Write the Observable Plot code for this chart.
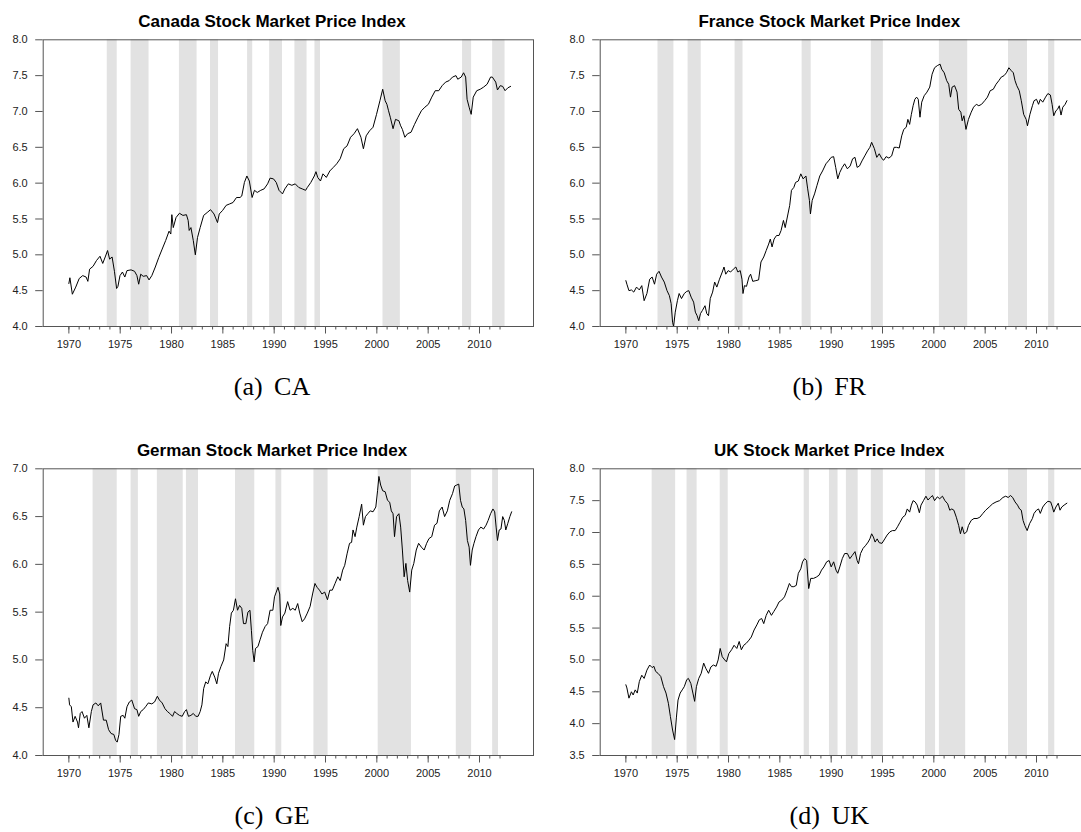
<!DOCTYPE html>
<html>
<head>
<meta charset="utf-8">
<script src="https://cdn.jsdelivr.net/npm/d3@7"></script>
<script src="https://cdn.jsdelivr.net/npm/@observablehq/plot@0.6"></script>
<style>
  html, body { margin: 0; padding: 0; background: #fff; overflow: hidden; }
  #fig { position: relative; width: 1081px; height: 832px; overflow: hidden; background: #fff; }
  .panel { position: absolute; }
  .title { position: absolute; font: bold 17px "Liberation Sans", Arial, sans-serif; line-height: 17px;
           white-space: nowrap; transform: translateX(-50%); color: #000; }
  .caption { position: absolute; font: 26px "Liberation Serif", "Times New Roman", serif; line-height: 26px;
             white-space: nowrap; transform: translateX(-50%); color: #000; word-spacing: 5px; }
</style>
</head>
<body>
<div id="fig"></div>
<script>
// Log stock market price indices, [decimal year, value]
const canada = [[1970.00,4.60],[1970.10,4.68],[1970.34,4.45],[1970.67,4.55],[1971.01,4.67],[1971.35,4.71],[1971.68,4.69],[1971.85,4.63],[1972.02,4.80],[1972.36,4.84],
[1972.69,4.92],[1973.03,4.98],[1973.30,4.88],[1973.54,4.97],[1973.77,5.06],[1973.97,4.94],[1974.21,4.97],[1974.44,4.77],[1974.65,4.53],[1974.78,4.56],
[1974.98,4.71],[1975.22,4.76],[1975.45,4.69],[1975.66,4.78],[1976.06,4.79],[1976.40,4.77],[1976.63,4.71],[1976.80,4.59],[1977.00,4.73],[1977.24,4.70],
[1977.58,4.71],[1977.81,4.65],[1978.08,4.71],[1978.42,4.83],[1978.75,4.96],[1979.09,5.08],[1979.43,5.20],[1979.76,5.33],[1979.93,5.29],[1980.03,5.56],
[1980.17,5.38],[1980.44,5.52],[1980.77,5.58],[1981.11,5.55],[1981.45,5.56],[1981.62,5.48],[1981.72,5.34],[1981.89,5.38],[1982.12,5.20],[1982.32,5.00],
[1982.53,5.24],[1982.79,5.38],[1983.13,5.55],[1983.47,5.59],[1983.80,5.63],[1984.14,5.57],[1984.48,5.45],[1984.65,5.57],[1984.98,5.62],[1985.32,5.69],
[1985.66,5.71],[1985.99,5.73],[1986.33,5.80],[1986.67,5.80],[1986.84,5.82],[1987.10,6.01],[1987.34,6.10],[1987.58,6.03],[1987.85,5.80],[1988.08,5.90],
[1988.35,5.87],[1988.69,5.90],[1989.02,5.92],[1989.36,5.99],[1989.60,6.07],[1989.93,6.06],[1990.20,6.01],[1990.47,5.90],[1990.81,5.85],[1991.04,5.92],
[1991.38,5.99],[1991.72,5.97],[1992.05,5.99],[1992.39,5.94],[1992.73,5.92],[1993.06,5.90],[1993.23,5.94],[1993.57,6.01],[1993.91,6.10],[1994.07,6.16],
[1994.24,6.08],[1994.51,6.03],[1994.75,6.13],[1995.08,6.08],[1995.42,6.17],[1995.76,6.22],[1996.09,6.27],[1996.43,6.34],[1996.77,6.48],[1997.10,6.52],
[1997.44,6.64],[1997.78,6.69],[1998.11,6.76],[1998.45,6.64],[1998.69,6.48],[1998.96,6.66],[1999.29,6.73],[1999.63,6.78],[1999.97,6.96],[2000.30,7.15],
[2000.57,7.31],[2000.81,7.15],[2000.98,7.10],[2001.14,7.01],[2001.31,6.92],[2001.58,6.76],[2001.82,6.89],[2002.15,6.87],[2002.32,6.80],[2002.49,6.75],
[2002.73,6.64],[2003.00,6.69],[2003.33,6.71],[2003.67,6.82],[2004.01,6.92],[2004.34,7.01],[2004.68,7.06],[2005.02,7.10],[2005.35,7.20],[2005.69,7.29],
[2006.03,7.29],[2006.36,7.36],[2006.70,7.41],[2007.04,7.43],[2007.37,7.48],[2007.71,7.50],[2007.88,7.45],[2008.22,7.48],[2008.45,7.54],[2008.65,7.48],
[2008.79,7.17],[2008.99,7.06],[2009.19,6.96],[2009.39,7.20],[2009.73,7.29],[2010.07,7.31],[2010.40,7.34],[2010.74,7.38],[2011.08,7.48],[2011.25,7.48],
[2011.58,7.41],[2011.75,7.30],[2012.02,7.36],[2012.26,7.35],[2012.49,7.29],[2012.76,7.33],[2013.03,7.35]];

const france = [[1970.00,4.64],[1970.10,4.59],[1970.30,4.50],[1970.54,4.51],[1970.77,4.48],[1971.04,4.55],[1971.31,4.51],[1971.55,4.57],[1971.78,4.36],[1972.05,4.46],
[1972.32,4.66],[1972.56,4.69],[1972.79,4.59],[1973.00,4.73],[1973.23,4.77],[1973.47,4.69],[1973.74,4.62],[1974.01,4.50],[1974.24,4.43],[1974.41,4.32],
[1974.55,4.06],[1974.65,4.00],[1974.81,4.20],[1975.02,4.36],[1975.19,4.46],[1975.42,4.39],[1975.69,4.46],[1975.93,4.49],[1976.13,4.50],[1976.36,4.41],
[1976.60,4.34],[1976.77,4.20],[1976.94,4.15],[1977.10,4.08],[1977.27,4.18],[1977.44,4.22],[1977.71,4.29],[1977.88,4.18],[1978.05,4.15],[1978.22,4.39],
[1978.45,4.48],[1978.65,4.62],[1978.86,4.55],[1979.12,4.66],[1979.39,4.76],[1979.56,4.83],[1979.73,4.73],[1979.97,4.78],[1980.20,4.76],[1980.47,4.80],
[1980.71,4.83],[1980.91,4.76],[1981.14,4.78],[1981.31,4.66],[1981.41,4.46],[1981.55,4.57],[1981.75,4.56],[1981.99,4.69],[1982.15,4.73],[1982.36,4.63],
[1982.66,4.64],[1982.93,4.65],[1983.16,4.90],[1983.43,4.97],[1983.67,5.06],[1983.91,5.15],[1984.07,5.22],[1984.24,5.11],[1984.44,5.22],[1984.68,5.27],
[1984.92,5.27],[1985.12,5.34],[1985.35,5.48],[1985.52,5.38],[1985.79,5.57],[1985.96,5.69],[1986.13,5.90],[1986.36,5.94],[1986.53,6.01],[1986.80,6.03],
[1987.04,6.13],[1987.27,6.06],[1987.54,6.10],[1987.71,5.92],[1987.88,5.76],[1987.98,5.57],[1988.15,5.76],[1988.38,5.85],[1988.62,5.97],[1988.89,6.10],
[1989.16,6.17],[1989.49,6.27],[1989.73,6.31],[1990.00,6.36],[1990.24,6.37],[1990.44,6.22],[1990.64,6.06],[1990.84,6.15],[1991.08,6.22],[1991.31,6.27],
[1991.58,6.20],[1991.85,6.24],[1992.09,6.34],[1992.32,6.36],[1992.53,6.22],[1992.76,6.24],[1993.00,6.31],[1993.27,6.38],[1993.54,6.45],[1993.77,6.50],
[1993.94,6.57],[1994.21,6.48],[1994.44,6.36],[1994.68,6.41],[1994.95,6.34],[1995.12,6.32],[1995.35,6.37],[1995.62,6.35],[1995.89,6.38],[1996.13,6.50],
[1996.36,6.50],[1996.63,6.49],[1996.87,6.66],[1997.07,6.75],[1997.31,6.78],[1997.47,6.89],[1997.64,6.82],[1997.81,6.96],[1997.98,7.08],[1998.15,7.17],
[1998.32,7.20],[1998.48,7.17],[1998.65,6.92],[1998.82,7.13],[1999.06,7.22],[1999.33,7.27],[1999.60,7.34],[1999.83,7.52],[2000.07,7.61],[2000.34,7.64],
[2000.61,7.66],[2000.77,7.59],[2001.01,7.54],[2001.25,7.43],[2001.45,7.38],[2001.62,7.20],[2001.78,7.34],[2002.02,7.36],[2002.26,7.27],[2002.42,7.03],
[2002.63,6.99],[2002.76,6.87],[2002.93,6.94],[2003.13,6.75],[2003.37,6.89],[2003.64,6.99],[2003.87,7.06],[2004.14,7.10],[2004.38,7.08],[2004.65,7.10],
[2004.95,7.15],[2005.22,7.20],[2005.49,7.29],[2005.79,7.31],[2006.06,7.38],[2006.33,7.43],[2006.57,7.48],[2006.84,7.50],[2007.07,7.54],[2007.31,7.61],
[2007.54,7.57],[2007.74,7.54],[2007.91,7.43],[2008.08,7.36],[2008.32,7.29],[2008.52,7.15],[2008.75,6.96],[2008.99,6.89],[2009.12,6.80],[2009.36,6.96],
[2009.60,7.08],[2009.76,7.15],[2010.00,7.17],[2010.20,7.10],[2010.37,7.17],[2010.61,7.13],[2010.88,7.20],[2011.11,7.25],[2011.35,7.23],[2011.52,7.10],
[2011.68,6.94],[2011.89,7.01],[2012.05,7.03],[2012.22,7.08],[2012.39,6.95],[2012.56,7.06],[2012.79,7.10],[2012.96,7.15]];

const germany = [[1970.00,4.60],[1970.07,4.53],[1970.24,4.51],[1970.40,4.35],[1970.61,4.41],[1970.84,4.35],[1970.94,4.29],[1971.11,4.44],[1971.28,4.46],[1971.52,4.39],
[1971.75,4.42],[1971.95,4.29],[1972.19,4.46],[1972.36,4.53],[1972.63,4.55],[1972.86,4.52],[1973.10,4.55],[1973.37,4.37],[1973.64,4.37],[1973.87,4.27],
[1974.11,4.23],[1974.38,4.22],[1974.55,4.16],[1974.71,4.14],[1974.88,4.22],[1975.05,4.41],[1975.29,4.42],[1975.45,4.39],[1975.66,4.51],[1975.89,4.56],
[1976.13,4.58],[1976.40,4.49],[1976.63,4.48],[1976.80,4.41],[1977.00,4.46],[1977.24,4.48],[1977.47,4.51],[1977.74,4.55],[1978.08,4.54],[1978.35,4.56],
[1978.62,4.62],[1978.82,4.58],[1979.09,4.55],[1979.36,4.49],[1979.60,4.46],[1979.83,4.44],[1980.10,4.41],[1980.30,4.46],[1980.51,4.44],[1980.77,4.42],
[1981.04,4.41],[1981.28,4.46],[1981.45,4.48],[1981.65,4.41],[1981.89,4.42],[1982.12,4.44],[1982.36,4.41],[1982.59,4.41],[1982.79,4.46],[1982.96,4.53],
[1983.13,4.70],[1983.33,4.77],[1983.54,4.75],[1983.80,4.84],[1983.97,4.88],[1984.21,4.82],[1984.41,4.75],[1984.58,4.86],[1984.81,4.93],[1985.08,5.00],
[1985.32,5.17],[1985.49,5.14],[1985.66,5.35],[1985.83,5.49],[1986.03,5.52],[1986.23,5.64],[1986.43,5.52],[1986.63,5.57],[1986.84,5.54],[1987.01,5.38],
[1987.24,5.38],[1987.44,5.50],[1987.64,5.52],[1987.78,5.31],[1987.91,5.10],[1988.05,4.98],[1988.18,5.12],[1988.42,5.14],[1988.62,5.21],[1988.86,5.29],
[1989.12,5.35],[1989.36,5.38],[1989.60,5.52],[1989.87,5.52],[1990.03,5.66],[1990.20,5.71],[1990.37,5.76],[1990.54,5.69],[1990.64,5.36],[1990.81,5.45],
[1991.04,5.49],[1991.31,5.61],[1991.55,5.52],[1991.82,5.54],[1992.05,5.52],[1992.29,5.59],[1992.49,5.49],[1992.73,5.40],[1992.96,5.43],[1993.23,5.49],
[1993.50,5.56],[1993.74,5.69],[1993.97,5.80],[1994.18,5.76],[1994.41,5.73],[1994.65,5.69],[1994.92,5.71],[1995.19,5.63],[1995.42,5.73],[1995.66,5.73],
[1995.93,5.80],[1996.20,5.87],[1996.43,5.83],[1996.67,5.94],[1996.87,5.99],[1997.10,6.11],[1997.34,6.22],[1997.54,6.23],[1997.68,6.36],[1997.88,6.29],
[1998.05,6.39],[1998.28,6.50],[1998.52,6.63],[1998.69,6.41],[1998.89,6.50],[1999.12,6.53],[1999.36,6.56],[1999.63,6.55],[1999.90,6.60],[2000.07,6.77],
[2000.20,6.92],[2000.37,6.83],[2000.57,6.77],[2000.81,6.76],[2001.04,6.67],[2001.25,6.65],[2001.41,6.56],[2001.58,6.53],[2001.72,6.29],[2001.92,6.50],
[2002.15,6.53],[2002.32,6.39],[2002.49,6.15],[2002.66,5.87],[2002.83,6.01],[2003.00,5.83],[2003.20,5.71],[2003.40,5.94],[2003.60,6.01],[2003.84,6.15],
[2004.07,6.22],[2004.34,6.18],[2004.61,6.15],[2004.85,6.22],[2005.08,6.27],[2005.35,6.29],[2005.62,6.41],[2005.86,6.43],[2006.09,6.56],[2006.36,6.60],
[2006.60,6.50],[2006.87,6.56],[2007.10,6.67],[2007.37,6.74],[2007.58,6.82],[2007.78,6.83],[2007.98,6.84],[2008.15,6.67],[2008.32,6.60],[2008.48,6.58],
[2008.65,6.46],[2008.82,6.25],[2008.99,6.18],[2009.12,5.99],[2009.29,6.15],[2009.46,6.22],[2009.66,6.29],[2009.90,6.36],[2010.13,6.39],[2010.40,6.37],
[2010.64,6.41],[2010.84,6.46],[2011.08,6.53],[2011.31,6.58],[2011.48,6.55],[2011.62,6.39],[2011.75,6.25],[2011.92,6.36],[2012.09,6.37],[2012.26,6.50],
[2012.42,6.46],[2012.56,6.36],[2012.76,6.43],[2012.96,6.50],[2013.13,6.55]];

const uk = [[1970.00,4.61],[1970.10,4.56],[1970.30,4.40],[1970.54,4.50],[1970.71,4.45],[1970.91,4.53],[1971.11,4.48],[1971.31,4.66],[1971.55,4.76],[1971.78,4.71],
[1972.05,4.84],[1972.32,4.92],[1972.56,4.88],[1972.73,4.90],[1972.90,4.82],[1973.13,4.79],[1973.40,4.74],[1973.67,4.58],[1973.91,4.48],[1974.14,4.32],
[1974.34,4.11],[1974.55,3.90],[1974.75,3.75],[1974.92,4.09],[1975.08,4.37],[1975.29,4.48],[1975.49,4.53],[1975.69,4.58],[1975.93,4.69],[1976.09,4.71],
[1976.33,4.63],[1976.53,4.48],[1976.70,4.35],[1976.87,4.58],[1977.10,4.71],[1977.34,4.79],[1977.58,4.95],[1977.78,4.87],[1978.05,4.79],[1978.28,4.89],
[1978.52,4.92],[1978.79,4.90],[1978.99,5.00],[1979.19,5.18],[1979.39,5.05],[1979.63,5.00],[1979.80,4.97],[1980.03,5.10],[1980.30,5.16],[1980.54,5.23],
[1980.81,5.18],[1981.04,5.29],[1981.25,5.16],[1981.48,5.23],[1981.72,5.26],[1981.99,5.31],[1982.22,5.36],[1982.49,5.47],[1982.76,5.55],[1983.00,5.63],
[1983.23,5.65],[1983.43,5.57],[1983.67,5.70],[1983.91,5.78],[1984.18,5.70],[1984.41,5.76],[1984.68,5.83],[1984.92,5.91],[1985.19,5.94],[1985.45,5.99],
[1985.69,6.09],[1985.93,6.20],[1986.13,6.15],[1986.36,6.15],[1986.60,6.17],[1986.80,6.36],[1987.04,6.43],[1987.21,6.54],[1987.41,6.59],[1987.61,6.56],
[1987.81,6.12],[1988.01,6.28],[1988.28,6.28],[1988.55,6.30],[1988.82,6.33],[1989.06,6.41],[1989.29,6.46],[1989.56,6.54],[1989.80,6.56],[1990.00,6.46],
[1990.24,6.54],[1990.47,6.41],[1990.64,6.36],[1990.84,6.46],[1991.08,6.59],[1991.31,6.67],[1991.58,6.67],[1991.82,6.59],[1992.05,6.64],[1992.32,6.70],
[1992.53,6.56],[1992.66,6.51],[1992.86,6.67],[1993.10,6.75],[1993.37,6.80],[1993.60,6.85],[1993.77,6.90],[1993.94,6.98],[1994.11,6.93],[1994.28,6.85],
[1994.48,6.90],[1994.68,6.84],[1994.95,6.83],[1995.22,6.90],[1995.45,6.96],[1995.72,7.01],[1995.96,7.03],[1996.23,7.03],[1996.46,7.09],[1996.70,7.16],
[1996.97,7.24],[1997.21,7.27],[1997.41,7.37],[1997.64,7.32],[1997.81,7.43],[1997.98,7.50],[1998.18,7.48],[1998.38,7.43],[1998.59,7.31],[1998.75,7.43],
[1998.99,7.50],[1999.23,7.57],[1999.43,7.51],[1999.66,7.55],[1999.87,7.58],[2000.07,7.50],[2000.34,7.56],[2000.57,7.53],[2000.84,7.57],[2001.08,7.50],
[2001.35,7.45],[2001.55,7.35],[2001.75,7.37],[2001.95,7.35],[2002.19,7.24],[2002.42,7.11],[2002.59,6.98],[2002.76,7.09],[2002.96,6.98],[2003.20,7.01],
[2003.37,7.11],[2003.64,7.19],[2003.91,7.22],[2004.21,7.22],[2004.48,7.24],[2004.78,7.30],[2005.05,7.35],[2005.39,7.40],[2005.72,7.45],[2006.06,7.48],
[2006.40,7.50],[2006.73,7.55],[2007.00,7.57],[2007.24,7.55],[2007.47,7.58],[2007.68,7.55],[2007.91,7.48],[2008.15,7.43],[2008.35,7.37],[2008.52,7.35],
[2008.69,7.19],[2008.86,7.11],[2009.09,7.03],[2009.33,7.14],[2009.60,7.22],[2009.76,7.30],[2010.00,7.35],[2010.20,7.37],[2010.37,7.30],[2010.61,7.40],
[2010.84,7.45],[2011.11,7.49],[2011.38,7.48],[2011.55,7.40],[2011.68,7.32],[2011.89,7.40],[2012.12,7.46],[2012.29,7.35],[2012.46,7.40],[2012.69,7.43],
[2012.96,7.46]];

// Shaded periods, [start, end] in decimal years
const canadaBands = [[1973.74,1974.71],[1976.06,1977.81],[1980.77,1982.49],[1983.80,1984.58],[1987.41,1987.91],[1989.56,1990.81],
  [1992.02,1993.20],[1993.97,1994.51],[2000.60,2002.29],[2008.35,2009.23],[2011.28,2012.49]];
const franceBands = [[1973.13,1974.68],[1976.06,1977.34],[1980.64,1981.41],[1987.17,1988.05],[1993.91,1995.08],[2000.54,2003.30],
  [2007.27,2009.12],[2011.18,2011.78]];
const germanyBands = [[1972.36,1974.71],[1976.06,1976.77],[1978.62,1981.14],[1981.45,1982.63],[1986.23,1988.11],[1990.17,1990.74],
  [1993.87,1995.25],[2000.13,2003.37],[2007.74,2009.23],[2011.28,2011.85]];
const ukBands = [[1972.56,1974.85],[1975.96,1976.94],[1979.19,1979.97],[1987.37,1987.88],[1989.83,1990.67],[1991.48,1992.63],
  [1993.91,1995.08],[1999.19,2000.17],[2000.54,2003.10],[2007.27,2009.12],[2011.18,2011.78]];

const titles = ["Canada Stock Market Price Index", "France Stock Market Price Index",
                "German Stock Market Price Index", "UK Stock Market Price Index"];
const captions = [["(a)", "CA"], ["(b)", "FR"], ["(c)", "GE"], ["(d)", "UK"]];
const yTicksFour = [4.0, 4.5, 5.0, 5.5, 6.0, 6.5, 7.0, 7.5, 8.0];
const yTicksGE = [4.0, 4.5, 5.0, 5.5, 6.0, 6.5, 7.0];
const yTicksUK = [3.5, 4.0, 4.5, 5.0, 5.5, 6.0, 6.5, 7.0, 7.5, 8.0];
const majorYears = [1970, 1975, 1980, 1985, 1990, 1995, 2000, 2005, 2010];
const minorYears = d3.range(1970, 2013);

const fig = document.getElementById("fig");

// Layout of the 2x2 grid (page pixels)
const colStep = 557.3, rowStep = 429.2;
const plotLeft = 42.7, plotTop = 39.3, plotW = 490.3, plotH = 286.7;
const svgW = 560, svgH = 380;
const labelCenter = 272;

function panel(series, bands, yDomain, yTicks, col, row) {
  const chart = Plot.plot({
    width: svgW,
    height: svgH,
    marginLeft: plotLeft,
    marginTop: plotTop,
    marginRight: svgW - plotLeft - plotW,
    marginBottom: svgH - plotTop - plotH,
    x: {domain: [1967.5, 2015.26]},
    y: {domain: yDomain},
    style: {fontFamily: "'Liberation Sans', Arial, sans-serif", fontSize: "11px", color: "#222", background: "transparent", overflow: "visible"},
    marks: [
      Plot.rect(bands, {x1: d => d[0], x2: d => d[1], fill: "#e2e2e2"}),
      Plot.line(series, {x: d => d[0], y: d => d[1], stroke: "#000", strokeWidth: 1}),
      Plot.frame({stroke: "#555"}),
      Plot.axisY({ticks: yTicks, tickFormat: d3.format(".1f"), tickSize: 7.5, tickPadding: 8, stroke: "#555", label: null}),
      Plot.axisX({ticks: majorYears, tickFormat: "d", tickSize: 7.5, tickPadding: 6, stroke: "#555", label: null}),
      Plot.axisX({ticks: minorYears, tickFormat: () => "", tickSize: 3.5, stroke: "#555", label: null})
    ]
  });
  chart.classList.add("panel");
  chart.style.left = (col * colStep) + "px";
  chart.style.top = (row * rowStep) + "px";
  fig.appendChild(chart);

  const i = row * 2 + col;
  const t = document.createElement("div");
  t.className = "title";
  t.textContent = titles[i];
  t.style.left = (labelCenter + col * colStep) + "px";
  t.style.top = (row * rowStep + 12.9) + "px";
  fig.appendChild(t);

  const c = document.createElement("div");
  c.className = "caption";
  c.textContent = captions[i].join(" ");
  c.style.left = (labelCenter + col * colStep) + "px";
  c.style.top = (row * rowStep + 373.5) + "px";
  fig.appendChild(c);
}

panel(canada, canadaBands, [4, 8], yTicksFour, 0, 0);
panel(france, franceBands, [4, 8], yTicksFour, 1, 0);
panel(germany, germanyBands, [4, 7], yTicksGE, 0, 1);
panel(uk, ukBands, [3.5, 8], yTicksUK, 1, 1);
</script>
</body>
</html>
